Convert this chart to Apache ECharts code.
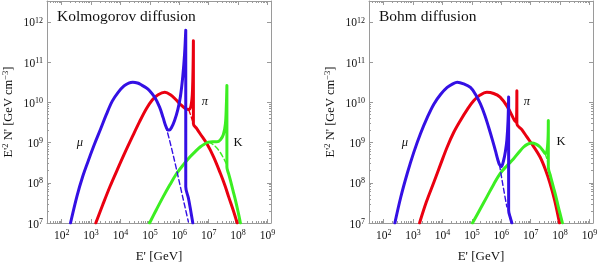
<!DOCTYPE html>
<html><head><meta charset="utf-8">
<script src="https://cdn.jsdelivr.net/npm/echarts@6/dist/echarts.min.js"></script>
<style>html,body{margin:0;padding:0;background:#fff}#c{width:600px;height:264px}</style>
</head><body><div id="c"></div>
<script>
// All values are log10(E' / GeV) and log10(E'^2 N' / GeV cm^-3)
const xTicks = [2, 3, 4, 5, 6, 7, 8, 9];
const yTicks = [7, 8, 9, 10, 11, 12];
const panelTitles = ['Kolmogorov diffusion', 'Bohm diffusion'];

// Kolmogorov diffusion
const kolMu = [[2.30,7.0],[2.52,7.67],[2.72,8.17],[2.92,8.58],[3.12,8.97],[3.32,9.33],[3.52,9.70],[3.72,10.03],[3.92,10.25],[4.12,10.41],[4.28,10.48],[4.42,10.50],[4.58,10.48],[4.72,10.43],[4.86,10.37],[4.99,10.29],[5.17,10.12],[5.33,9.88],[5.45,9.62],[5.53,9.43],[5.60,9.32],[5.66,9.31],[5.74,9.38],[5.84,9.55],[5.95,9.82],[6.04,10.15],[6.12,10.65],[6.18,11.20],[6.22,11.79],[6.22,7.90],[6.31,7.62],[6.39,7.30],[6.46,7.0]];
const kolMuDash = [[5.45,9.62],[5.60,9.25],[5.75,8.82],[5.90,8.35],[6.05,7.86],[6.20,7.38],[6.31,7.03]];
const kolPi = [[3.16,7.0],[3.40,7.46],[3.65,7.92],[3.90,8.34],[4.15,8.75],[4.40,9.14],[4.65,9.52],[4.88,9.84],[5.08,10.06],[5.28,10.19],[5.51,10.25],[5.70,10.19],[5.88,10.07],[6.05,9.94],[6.20,9.85],[6.32,9.82],[6.40,9.92],[6.45,10.30],[6.48,11.53],[6.48,9.47],[6.60,9.34],[6.71,9.22],[6.94,8.97],[7.17,8.64],[7.40,8.23],[7.55,7.94],[7.68,7.65],[7.83,7.33],[7.97,7.0]];
const kolPiDash = [[6.32,9.82],[6.40,9.65],[6.48,9.47]];
const kolK = [[4.99,7.0],[5.22,7.33],[5.45,7.65],[5.68,7.95],[5.91,8.23],[6.14,8.45],[6.36,8.64],[6.55,8.78],[6.71,8.89],[6.85,8.96],[6.99,9.01],[7.13,9.02],[7.28,9.02],[7.40,9.07],[7.50,9.20],[7.57,9.47],[7.60,9.90],[7.62,10.42],[7.62,8.39],[7.68,8.22],[7.74,8.06],[7.83,7.80],[7.91,7.57],[8.00,7.28],[8.08,7.0]];
const kolKDash = [[6.99,9.01],[7.15,8.95],[7.34,8.81],[7.50,8.62],[7.62,8.44]];

// Bohm diffusion
const bohmMu = [[2.38,7.0],[2.58,7.64],[2.80,8.23],[3.02,8.75],[3.25,9.22],[3.48,9.62],[3.71,9.96],[3.94,10.20],[4.16,10.37],[4.35,10.46],[4.50,10.50],[4.72,10.46],[4.95,10.37],[5.12,10.20],[5.29,9.96],[5.44,9.68],[5.57,9.38],[5.70,9.06],[5.80,8.80],[5.88,8.58],[5.94,8.45],[6.00,8.40],[6.08,8.56],[6.14,8.78],[6.19,9.06],[6.23,9.55],[6.25,10.13],[6.25,7.32],[6.30,7.15],[6.36,7.0]];
const bohmMuDash = [[5.94,8.45],[6.00,8.18],[6.08,7.84],[6.19,7.40]];
const bohmPi = [[3.22,7.0],[3.45,7.52],[3.71,8.02],[3.94,8.47],[4.16,8.89],[4.38,9.25],[4.61,9.55],[4.84,9.82],[5.06,10.04],[5.28,10.18],[5.51,10.25],[5.74,10.22],[5.96,10.13],[6.20,9.90],[6.42,9.59],[6.48,9.52],[6.52,9.62],[6.53,10.29],[6.53,9.47],[6.70,9.32],[6.87,9.14],[7.10,8.90],[7.32,8.64],[7.50,8.33],[7.66,7.98],[7.82,7.55],[7.98,7.0]];
const bohmK = [[5.02,7.0],[5.27,7.33],[5.51,7.65],[5.74,7.96],[5.96,8.23],[6.20,8.43],[6.42,8.60],[6.60,8.76],[6.76,8.89],[6.90,8.96],[7.04,8.99],[7.18,8.96],[7.32,8.89],[7.42,8.80],[7.49,8.73],[7.55,8.78],[7.59,9.10],[7.60,9.55],[7.60,8.39],[7.68,8.15],[7.77,7.90],[7.86,7.65],[7.94,7.40],[8.01,7.20],[8.08,7.0]];
const bohmKDash = [[7.49,8.73],[7.55,8.60],[7.60,8.45]];

const panelLabels = [
  [{t:'μ', x:80, y:143, it:true}, {t:'π', x:205, y:102, it:true}, {t:'K', x:238, y:143, it:false}],
  [{t:'μ', x:405, y:143, it:true}, {t:'π', x:527, y:102, it:true}, {t:'K', x:561, y:142, it:false}]
];

const BLUE = '#3410e4', RED = '#ea0010', GREEN = '#3cee22', FRAME = '#9a9a9a';
const FONT = '"Liberation Serif", "DejaVu Serif", serif';
const X0 = 1.5, X1 = 9.12, Y0 = 7, Y1 = 12.52;

const minorX = [], minorY = [];
for (let n = 1; n <= 9; n++) for (let k = 2; k <= 9; k++) {
  const v = n + Math.log10(k);
  if (v > X0 && v < X1) minorX.push(v);
  if (v > Y0 && v < Y1) minorY.push(v);
}

const rich = {
  b: {fontSize: 11.5, fontFamily: FONT, color: '#111', verticalAlign: 'bottom', lineHeight: 15},
  s: {fontSize: 8, fontFamily: FONT, color: '#111', verticalAlign: 'bottom', lineHeight: 15, padding: [0,0,5,0]}
};
const fmt = v => '{b|10}{s|' + Math.round(v) + '}';

const grids = [
  {left: 47, top: 1, width: 224, height: 222, containLabel: false, outerBoundsMode: 'none'},
  {left: 369, top: 1, width: 224, height: 222, containLabel: false, outerBoundsMode: 'none'}
];
const xAxes = [], yAxes = [];
const lineS = {color: FRAME, width: 1};
grids.forEach((g, gi) => {
  xAxes.push({type:'value', gridIndex:gi, position:'bottom', min:X0, max:X1,
    axisLine:{show:true, lineStyle:lineS}, splitLine:{show:false},
    axisTick:{show:true, inside:true, length:4, customValues:xTicks, lineStyle:lineS},
    axisLabel:{show:true, customValues:xTicks, formatter:fmt, rich:rich, margin:4},
    name:"E' [GeV]", nameLocation:'middle', nameGap:27,
    nameTextStyle:{fontFamily:FONT, fontSize:13, color:'#111'}});
  xAxes.push({type:'value', gridIndex:gi, position:'top', min:X0, max:X1,
    axisLine:{show:true, lineStyle:lineS}, splitLine:{show:false},
    axisTick:{show:true, inside:true, length:4, customValues:xTicks, lineStyle:lineS},
    axisLabel:{show:false}});
  xAxes.push({type:'value', gridIndex:gi, position:'bottom', min:X0, max:X1,
    axisLine:{show:false}, splitLine:{show:false},
    axisTick:{show:true, inside:true, length:2, customValues:minorX, lineStyle:lineS},
    axisLabel:{show:false}});
  xAxes.push({type:'value', gridIndex:gi, position:'top', min:X0, max:X1,
    axisLine:{show:false}, splitLine:{show:false},
    axisTick:{show:true, inside:true, length:2, customValues:minorX, lineStyle:lineS},
    axisLabel:{show:false}});
  yAxes.push({type:'value', gridIndex:gi, position:'left', min:Y0, max:Y1,
    axisLine:{show:true, lineStyle:lineS}, splitLine:{show:false},
    axisTick:{show:true, inside:true, length:4, customValues:yTicks, lineStyle:lineS},
    axisLabel:{show:true, customValues:yTicks, formatter:fmt, rich:rich, margin:4},
    name:"{n|E'}{s|2}{n| N' [GeV cm}{s|−3}{n|]}", nameLocation:'middle', nameGap:32,
    nameTextStyle:{rich:{
      n:{fontFamily:FONT, fontSize:12.5, color:'#111', verticalAlign:'bottom', lineHeight:16},
      s:{fontFamily:FONT, fontSize:8.5, color:'#111', verticalAlign:'bottom', lineHeight:16, padding:[0,0,5,0]}}}});
  yAxes.push({type:'value', gridIndex:gi, position:'right', min:Y0, max:Y1,
    axisLine:{show:true, lineStyle:lineS}, splitLine:{show:false},
    axisTick:{show:true, inside:true, length:4, customValues:yTicks, lineStyle:lineS},
    axisLabel:{show:false}});
  yAxes.push({type:'value', gridIndex:gi, position:'left', min:Y0, max:Y1,
    axisLine:{show:false}, splitLine:{show:false},
    axisTick:{show:true, inside:true, length:2, customValues:minorY, lineStyle:lineS},
    axisLabel:{show:false}});
  yAxes.push({type:'value', gridIndex:gi, position:'right', min:Y0, max:Y1,
    axisLine:{show:false}, splitLine:{show:false},
    axisTick:{show:true, inside:true, length:2, customValues:minorY, lineStyle:lineS},
    axisLabel:{show:false}});
});

function line(data, gi, color, dashed) {
  return {type:'line', xAxisIndex:gi*4, yAxisIndex:gi*4, data:data, showSymbol:false, symbol:'none',
    smooth:0.35, clip:true, silent:true,
    lineStyle:{color:color, width:dashed ? 1.4 : 3, type:dashed ? [5,3] : 'solid', cap:'round', join:'round'},
    z: dashed ? 3 : 2};
}
const series = [
  line(kolPi,0,RED), line(kolK,0,GREEN), line(kolMu,0,BLUE),
  line(kolMuDash,0,BLUE,true), line(kolPiDash,0,RED,true), line(kolKDash,0,GREEN,true),
  line(bohmPi,1,RED), line(bohmK,1,GREEN), line(bohmMu,1,BLUE),
  line(bohmMuDash,1,BLUE,true), line(bohmKDash,1,GREEN,true)
];

const graphics = [];
panelLabels.forEach(arr => arr.forEach(l => graphics.push({type:'text', x:l.x, y:l.y,
  style:{text:l.t, fontFamily:FONT, fontSize:12.5, fontStyle:l.it ? 'italic' : 'normal', fill:'#111',
    align:'center', verticalAlign:'middle'}})));
graphics.push({type:'text', x:57, y:17, style:{text:panelTitles[0], fontFamily:FONT, fontSize:15.5, fill:'#111', verticalAlign:'middle'}});
graphics.push({type:'text', x:379, y:17, style:{text:panelTitles[1], fontFamily:FONT, fontSize:15.5, fill:'#111', verticalAlign:'middle'}});

const chart = echarts.init(document.getElementById('c'), null, {renderer:'canvas'});
chart.setOption({
  animation:false, backgroundColor:'#fff',
  grid:grids, xAxis:xAxes, yAxis:yAxes, series:series, graphic:graphics
});
</script></body></html>
